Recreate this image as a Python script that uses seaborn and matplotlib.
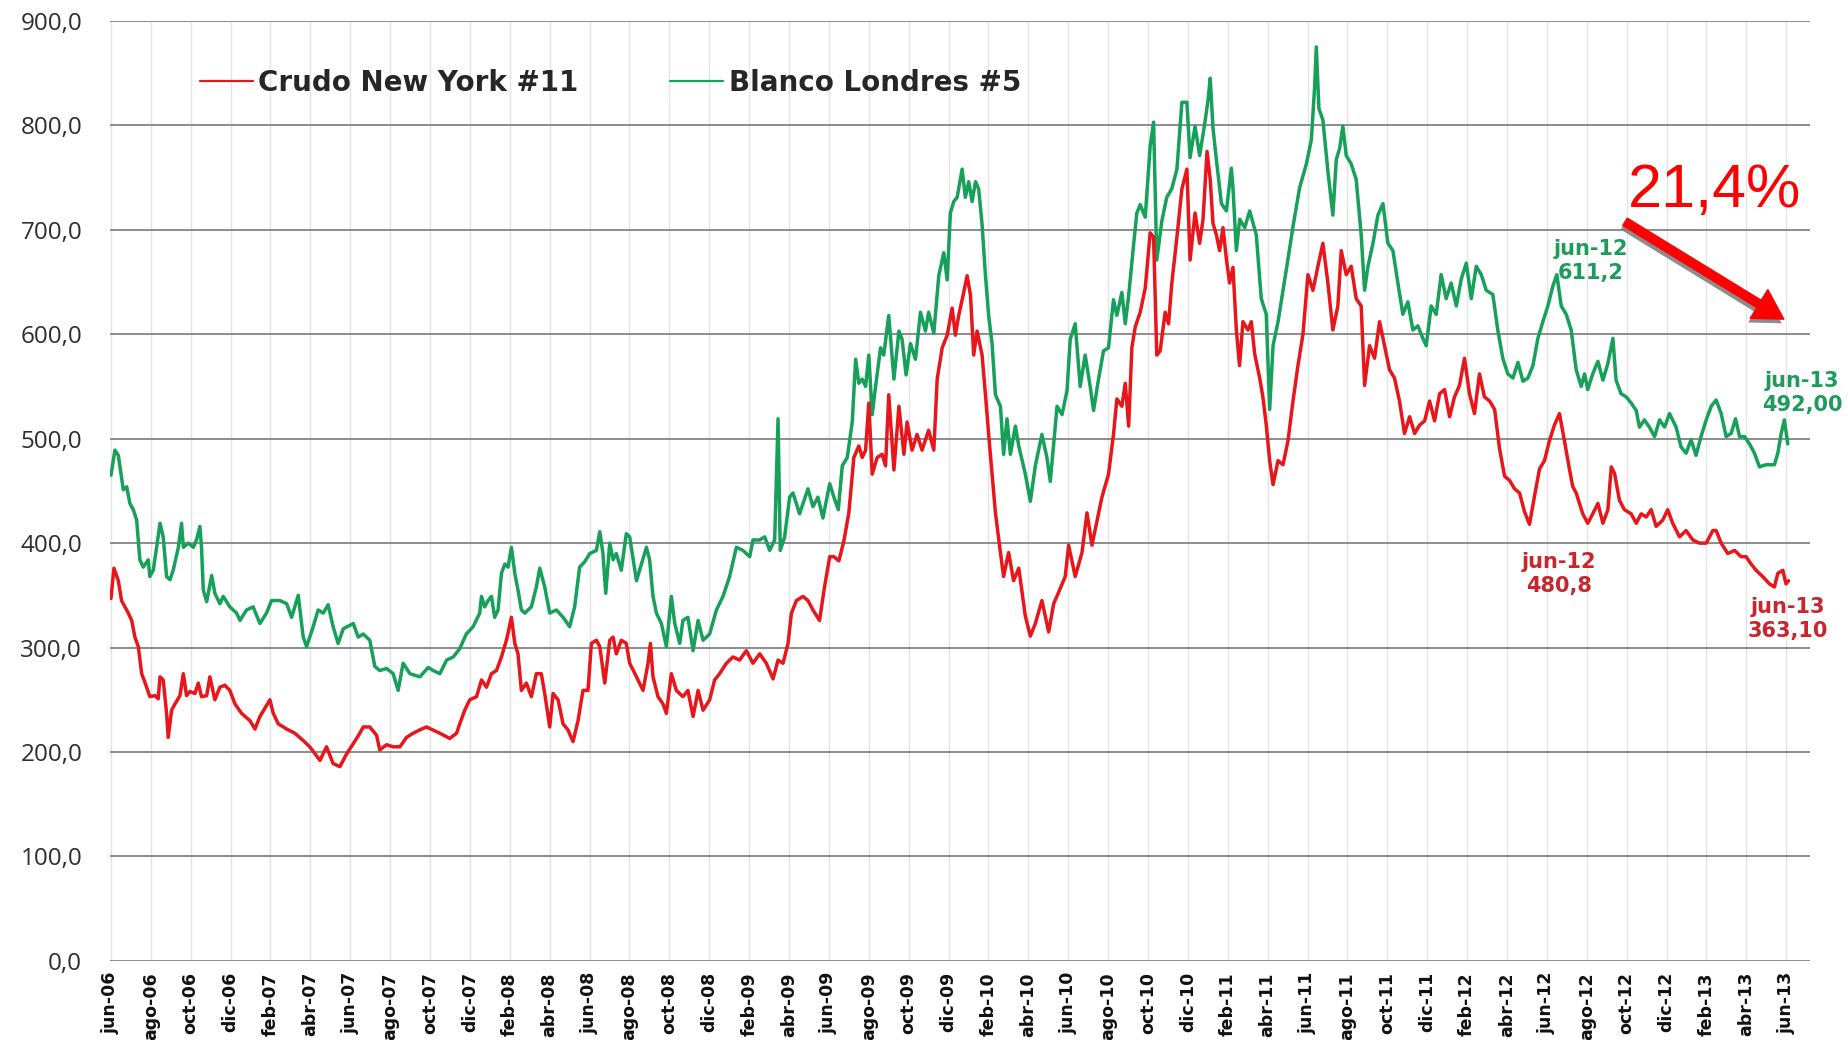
import matplotlib
matplotlib.use('Agg')
import matplotlib.pyplot as plt
import matplotlib.patheffects as pe
from matplotlib.lines import Line2D
from matplotlib.patches import FancyArrowPatch
import pandas as pd
import seaborn as sns

# meses transcurridos desde jun-06 y cotizacion (USD/t)
meses_crudo = [
    0.0, 0.15, 0.37, 0.53, 0.70, 0.87, 1.04, 1.20, 1.37, 1.54, 1.70, 1.95, 2.21, 2.37, 2.46, 2.62,
    2.79, 2.87, 3.04, 3.21, 3.46, 3.63, 3.79, 3.96, 4.21, 4.38, 4.54, 4.80, 4.96, 5.21, 5.46, 5.71,
    5.96, 6.22, 6.55, 6.97, 7.22, 7.47, 7.72, 7.97, 8.14, 8.39, 8.81, 9.22, 9.64, 9.97, 10.48, 10.81,
    11.14, 11.48, 11.81, 12.15, 12.48, 12.65, 12.98, 13.32, 13.48, 13.82, 14.15, 14.49, 14.82, 15.15,
    15.57, 15.82, 16.16, 16.49, 16.99, 17.33, 17.49, 17.74, 17.99, 18.33, 18.58, 18.83, 19.08, 19.33,
    19.58, 19.83, 20.08, 20.25, 20.41, 20.58, 20.83, 21.08, 21.33, 21.58, 21.75, 22.00, 22.17, 22.42,
    22.67, 22.92, 23.17, 23.42, 23.67, 23.92, 24.09, 24.34, 24.51, 24.76, 25.01, 25.18, 25.34, 25.59,
    25.84, 26.01, 26.35, 26.68, 26.93, 27.05, 27.18, 27.43, 27.68, 27.85, 28.10, 28.35, 28.68, 28.93,
    29.19, 29.44, 29.69, 30.02, 30.27, 30.52, 30.86, 31.19, 31.52, 31.86, 32.19, 32.53, 32.86, 33.20,
    33.45, 33.70, 33.95, 34.12, 34.37, 34.70, 34.95, 35.20, 35.53, 35.78, 36.04, 36.25, 36.50, 36.75,
    37.00, 37.25, 37.50, 37.67, 37.84, 38.00, 38.17, 38.42, 38.67, 38.84, 39.00, 39.26, 39.51, 39.76,
    39.92, 40.17, 40.42, 40.67, 41.00, 41.26, 41.43, 41.68, 41.93, 42.18, 42.34, 42.51, 42.76, 42.93,
    43.10, 43.26, 43.43, 43.68, 43.85, 44.01, 44.18, 44.35, 44.60, 44.76, 45.01, 45.26, 45.52, 45.85,
    46.10, 46.35, 46.68, 47.02, 47.27, 47.52, 47.85, 48.02, 48.35, 48.69, 48.94, 49.19, 49.44, 49.69,
    50.02, 50.27, 50.44, 50.69, 50.86, 51.03, 51.19, 51.36, 51.61, 51.86, 52.11, 52.28, 52.44, 52.61,
    52.86, 53.03, 53.19, 53.45, 53.70, 53.95, 54.11, 54.36, 54.59, 54.76, 54.96, 55.12, 55.26, 55.43,
    55.59, 55.76, 55.93, 56.09, 56.26, 56.43, 56.59, 56.76, 57.01, 57.18, 57.35, 57.60, 57.76, 57.93,
    58.10, 58.27, 58.52, 58.77, 59.02, 59.27, 59.52, 59.77, 60.02, 60.27, 60.52, 60.77, 61.02, 61.27,
    61.52, 61.69, 61.94, 62.19, 62.44, 62.69, 62.86, 63.11, 63.36, 63.61, 63.86, 64.11, 64.36, 64.61,
    64.86, 65.12, 65.37, 65.62, 65.87, 66.12, 66.37, 66.62, 66.87, 67.12, 67.37, 67.62, 67.87, 68.12,
    68.37, 68.62, 68.87, 69.13, 69.38, 69.63, 69.88, 70.13, 70.38, 70.63, 70.88, 71.13, 71.38, 71.63,
    71.88, 72.13, 72.38, 72.63, 72.88, 73.13, 73.30, 73.47, 73.80, 74.05, 74.30, 74.56, 74.81, 75.06,
    75.23, 75.39, 75.64, 75.89, 76.23, 76.48, 76.73, 76.98, 77.23, 77.48, 77.81, 78.06, 78.31, 78.65,
    78.98, 79.32, 79.65, 79.99, 80.32, 80.49, 80.74, 81.07, 81.41, 81.74, 81.99, 82.24, 82.49, 82.82,
    83.16, 83.41, 83.58, 83.83, 83.99, 84.12,
]
valores_crudo = [
    347, 376, 364, 345, 339, 333, 326, 310, 301, 275, 267, 253, 254, 251, 272, 269,
    237, 214, 240, 246, 254, 275, 254, 258, 256, 266, 253, 254, 272, 250, 262, 264,
    259, 246, 237, 230, 222, 234, 242, 250, 237, 227, 222, 218, 211, 205, 192, 205,
    189, 186, 198, 208, 218, 224, 224, 216, 202, 207, 205, 205, 214, 218,
    222, 224, 221, 218, 213, 218, 227, 240, 250, 253, 269, 262, 275, 278,
    291, 307, 329, 304, 294, 259, 266, 253, 275, 275, 256, 224, 256, 250,
    227, 221, 210, 230, 259, 259, 304, 307, 301, 266, 307, 310, 294, 307,
    304, 285, 272, 259, 285, 304, 272, 253, 246, 237, 275, 259, 253, 259,
    234, 259, 240, 250, 269, 275, 285, 291, 288, 297, 285, 294, 285, 270,
    288, 285, 304, 333, 345, 349, 345, 336, 326, 358, 387, 387, 383, 402,
    429, 482, 493, 482, 489, 534, 466, 482, 485, 474, 542, 470, 531, 485,
    516, 489, 504, 489, 508, 489, 557, 587, 599, 625, 599, 618, 640, 656,
    637, 580, 603, 580, 542, 504, 466, 429, 391, 368, 391, 364, 376, 330,
    311, 323, 345, 315, 342, 353, 368, 398, 368, 391, 429, 398, 421, 444,
    466, 504, 538, 531, 553, 512, 587, 607, 621, 644, 697, 693, 580, 584,
    621, 610, 648, 693, 739, 758, 671, 716, 687, 710, 775, 748, 706, 695,
    680, 702, 672, 649, 664, 604, 570, 612, 604, 612, 581, 558, 540, 513,
    479, 456, 479, 475, 498, 536, 570, 600, 657, 642, 665, 687, 649, 604,
    627, 680, 657, 665, 634, 627, 551, 589, 577, 612, 589, 566, 558, 536,
    505, 521, 505, 513, 517, 536, 517, 543, 547, 521, 540, 551, 577, 543,
    524, 562, 540, 536, 528, 490, 464, 460, 452, 448, 430, 418, 445, 471,
    479, 498, 513, 524, 498, 471, 454, 448, 428, 419, 428, 438, 419, 432,
    473, 467, 441, 432, 428, 419, 428, 425, 432, 416, 422, 432, 419, 406,
    412, 403, 400, 400, 412, 412, 400, 390, 393, 387, 387, 380, 374, 368,
    361, 358, 371, 374, 361, 364,
]

meses_blanco = [
    0.0, 0.20, 0.37, 0.62, 0.79, 0.95, 1.12, 1.29, 1.45, 1.62, 1.87, 1.95, 2.12, 2.29, 2.46, 2.62,
    2.79, 2.96, 3.12, 3.38, 3.54, 3.63, 3.88, 4.13, 4.29, 4.46, 4.54, 4.63, 4.80, 5.05, 5.21, 5.46,
    5.63, 5.96, 6.30, 6.47, 6.80, 7.13, 7.47, 7.80, 8.05, 8.47, 8.81, 9.06, 9.39, 9.64, 9.81, 10.14,
    10.39, 10.64, 10.89, 11.14, 11.39, 11.65, 12.15, 12.40, 12.65, 12.98, 13.23, 13.48, 13.82, 14.15,
    14.40, 14.65, 14.99, 15.49, 15.91, 16.16, 16.49, 16.83, 17.16, 17.49, 17.82, 18.16, 18.49, 18.58,
    18.74, 18.91, 19.08, 19.24, 19.41, 19.58, 19.75, 19.91, 20.08, 20.25, 20.41, 20.58, 20.75, 21.08,
    21.33, 21.50, 21.75, 22.00, 22.34, 22.67, 23.00, 23.25, 23.50, 23.75, 24.01, 24.34, 24.51, 24.67,
    24.81, 25.01, 25.18, 25.34, 25.59, 25.84, 26.01, 26.35, 26.60, 26.85, 27.01, 27.18, 27.35, 27.60,
    27.85, 28.10, 28.27, 28.52, 28.68, 28.93, 29.19, 29.44, 29.69, 30.02, 30.36, 30.69, 31.02, 31.36,
    31.69, 32.03, 32.19, 32.53, 32.78, 33.03, 33.28, 33.45, 33.56, 33.78, 34.03, 34.20, 34.53, 34.95,
    35.20, 35.45, 35.70, 36.04, 36.25, 36.47, 36.67, 36.92, 37.17, 37.34, 37.50, 37.67, 37.84, 38.00,
    38.17, 38.34, 38.59, 38.75, 39.00, 39.26, 39.51, 39.67, 39.87, 40.09, 40.34, 40.59, 40.84, 41.00,
    41.26, 41.51, 41.76, 41.93, 42.09, 42.26, 42.43, 42.68, 42.84, 43.01, 43.18, 43.35, 43.51, 43.68,
    43.85, 44.01, 44.18, 44.35, 44.60, 44.76, 44.93, 45.10, 45.35, 45.52, 45.85, 46.10, 46.35, 46.68,
    46.93, 47.10, 47.44, 47.69, 47.94, 48.10, 48.35, 48.60, 48.85, 49.10, 49.27, 49.52, 49.77, 50.02,
    50.27, 50.44, 50.69, 50.86, 51.03, 51.28, 51.44, 51.61, 51.86, 52.11, 52.28, 52.44, 52.69, 52.94,
    53.19, 53.45, 53.70, 53.95, 54.11, 54.36, 54.59, 54.84, 55.01, 55.12, 55.26, 55.43, 55.68, 55.93,
    56.18, 56.26, 56.43, 56.60, 56.85, 57.10, 57.43, 57.68, 57.93, 58.10, 58.27, 58.52, 58.77, 59.02,
    59.27, 59.60, 59.94, 60.19, 60.35, 60.44, 60.57, 60.77, 61.02, 61.27, 61.44, 61.61, 61.77, 61.94,
    62.19, 62.44, 62.69, 62.86, 63.03, 63.28, 63.53, 63.78, 64.03, 64.28, 64.53, 64.78, 65.03, 65.28,
    65.53, 65.78, 65.95, 66.20, 66.45, 66.70, 66.95, 67.20, 67.46, 67.71, 67.96, 68.21, 68.46, 68.71,
    68.96, 69.29, 69.54, 69.79, 70.04, 70.30, 70.55, 70.80, 71.05, 71.30, 71.55, 71.80, 72.05, 72.30,
    72.50, 72.72, 72.97, 73.22, 73.47, 73.72, 73.89, 74.05, 74.30, 74.56, 74.81, 75.06, 75.31, 75.47,
    75.72, 75.98, 76.23, 76.48, 76.64, 76.89, 77.14, 77.40, 77.65, 77.90, 78.15, 78.48, 78.73, 78.98,
    79.23, 79.48, 79.73, 79.99, 80.24, 80.49, 80.74, 80.99, 81.24, 81.46, 81.66, 81.91, 82.16, 82.41,
    82.66, 82.99, 83.41, 83.58, 83.75, 83.91, 84.08,
]
valores_blanco = [
    465, 489, 484, 451, 454, 438, 432, 422, 384, 377, 384, 368, 374, 396, 419, 406,
    368, 365, 374, 396, 419, 396, 400, 396, 403, 416, 396, 355, 344, 369, 352, 342,
    349, 339, 333, 326, 336, 339, 323, 333, 345, 345, 342, 329, 350, 310, 301, 320,
    336, 333, 341, 320, 304, 318, 323, 310, 313, 307, 282, 278, 280, 275,
    259, 285, 275, 272, 281, 278, 275, 288, 291, 299, 313, 320, 333, 349,
    339, 345, 349, 329, 336, 371, 380, 377, 396, 371, 355, 336, 333, 339,
    358, 376, 358, 333, 336, 329, 320, 339, 377, 382, 390, 393, 411, 390,
    352, 400, 384, 390, 374, 409, 406, 364, 380, 396, 384, 349, 333, 323,
    301, 349, 323, 304, 326, 329, 297, 326, 307, 313, 336, 349, 368, 396,
    393, 387, 403, 403, 406, 393, 403, 519, 393, 406, 444, 448, 428, 452,
    435, 444, 424, 457, 444, 432, 474, 482, 516, 576, 553, 557, 550, 580,
    523, 550, 587, 580, 618, 557, 603, 595, 561, 591, 576, 621, 603, 621,
    601, 656, 678, 652, 716, 727, 731, 758, 731, 746, 727, 746, 739, 705,
    656, 618, 591, 542, 531, 485, 519, 485, 512, 493, 466, 440, 474, 504,
    482, 459, 531, 523, 546, 595, 610, 550, 580, 550, 527, 557, 584, 587,
    633, 618, 640, 610, 637, 686, 716, 724, 712, 780, 803, 671, 708, 731,
    739, 758, 822, 822, 769, 799, 771, 801, 824, 845, 797, 767, 725, 718,
    759, 740, 680, 710, 702, 718, 695, 634, 619, 528, 589, 612, 642, 672,
    703, 740, 763, 786, 835, 875, 816, 805, 756, 714, 767, 778, 799, 771,
    763, 748, 695, 642, 665, 687, 714, 725, 687, 680, 649, 619, 631, 604,
    608, 596, 589, 627, 619, 657, 634, 649, 627, 653, 668, 634, 665, 657,
    642, 638, 604, 577, 562, 558, 573, 555, 558, 570, 596, 612, 627, 646,
    657, 627, 619, 604, 566, 550, 562, 547, 562, 574, 556, 572, 596, 556,
    543, 540, 534, 527, 511, 518, 511, 502, 518, 511, 524, 511, 492, 486,
    499, 484, 502, 518, 531, 537, 524, 502, 505, 519, 502, 502, 495, 486,
    473, 475, 475, 486, 505, 518, 495,
]

serie_crudo = 'Crudo New York #11'
serie_blanco = 'Blanco Londres #5'

nombres_mes = {2: 'feb', 4: 'abr', 6: 'jun', 8: 'ago', 10: 'oct', 12: 'dic'}
pos_ticks = list(range(0, 85, 2))
etiquetas_x = []
for k in pos_ticks:
    mes = (5 + k) % 12 + 1
    anio = 2006 + (5 + k) // 12
    etiquetas_x.append(f'{nombres_mes[mes]}-{anio % 100:02d}')

df = pd.concat([
    pd.DataFrame({'mes': meses_blanco, 'valor': valores_blanco, 'serie': serie_blanco}),
    pd.DataFrame({'mes': meses_crudo, 'valor': valores_crudo, 'serie': serie_crudo}),
])

sns.set_style('white')
plt.rcParams['font.family'] = ['DejaVu Sans']

rojo = '#E8161B'
verde = '#17A05A'

fig = plt.figure(figsize=(18.48, 10.4), dpi=100)
ax = fig.add_axes([0.0595, 0.076, 0.92, 0.904])

sns.lineplot(
    data=df, x='mes', y='valor', hue='serie',
    hue_order=[serie_blanco, serie_crudo],
    palette={serie_crudo: rojo, serie_blanco: verde},
    estimator=None, sort=False, linewidth=2.5, legend=False, ax=ax,
)

ax.set_xlim(-0.05, 85.2)
ax.set_ylim(0, 900)
ax.set_yticks(range(0, 901, 100))
ax.set_yticklabels([f'{v:.1f}'.replace('.', ',') for v in range(0, 901, 100)],
                   fontfamily='Open Sans', fontsize=17.5, color='#2E2E2E')
ax.set_xticks(pos_ticks)
ax.set_xticklabels(etiquetas_x, rotation=90, fontsize=12.5, fontweight='bold', color='#111111')
ax.tick_params(axis='both', length=0)
ax.tick_params(axis='y', pad=20)
ax.tick_params(axis='x', pad=8)
ax.set_xlabel('')
ax.set_ylabel('')
for s in ax.spines.values():
    s.set_visible(False)
ax.set_axisbelow(True)
ax.yaxis.grid(True, color='#8C8C8C', linewidth=1.4)
ax.xaxis.grid(True, color='#E4E4E4', linewidth=1.0)

handles = [Line2D([], [], color=rojo, lw=1.6), Line2D([], [], color=verde, lw=1.6)]
ax.legend(handles, [serie_crudo, serie_blanco], loc='center left',
          bbox_to_anchor=(0.053, 0.934), ncol=2, frameon=False,
          prop={'size': 20, 'weight': 'bold'}, handlelength=1.9,
          handletextpad=0.2, columnspacing=3.3, borderpad=0, borderaxespad=0)

verde_txt = '#1E9B5B'
rojo_txt = '#C8262C'
ax.text(74.2, 670, 'jun-12\n611,2', ha='center', va='center', color=verde_txt,
        fontsize=15, fontweight='bold', linespacing=1.25)
ax.text(72.6, 370, 'jun-12\n480,8', ha='center', va='center', color=rojo_txt,
        fontsize=15, fontweight='bold', linespacing=1.25)
ax.text(84.8, 544, 'jun-13\n492,00', ha='center', va='center', color=verde_txt,
        fontsize=15, fontweight='bold', linespacing=1.25, clip_on=False)
ax.text(84.1, 327, 'jun-13\n363,10', ha='center', va='center', color=rojo_txt,
        fontsize=15, fontweight='bold', linespacing=1.25, clip_on=False)

ax.text(80.4, 737, '21,4%', ha='center', va='center', color='#FF0000',
        fontsize=44, fontfamily='Liberation Sans', clip_on=False)
flecha = FancyArrowPatch(
    (75.8, 709), (84.0, 613),
    arrowstyle='simple,head_length=0.95,head_width=1.1,tail_width=0.28',
    mutation_scale=22, color='#FF0000', clip_on=False,
    path_effects=[pe.SimplePatchShadow(offset=(-1.5, -3), shadow_rgbFace='#808080', alpha=0.9),
                  pe.Normal()],
)
ax.add_patch(flecha)

fig.savefig('out.png', dpi=100)
